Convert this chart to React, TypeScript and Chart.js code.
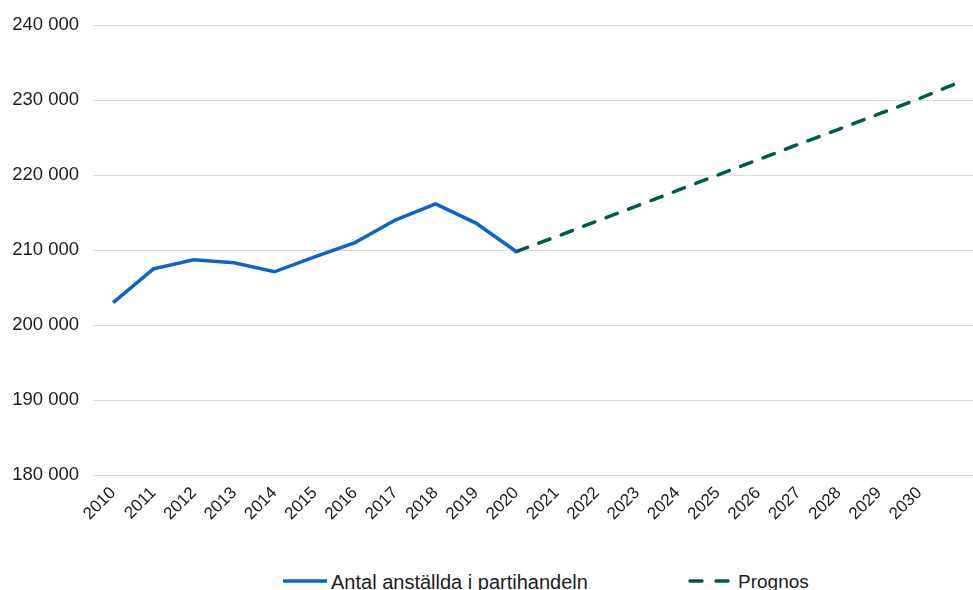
import React, { useEffect, useRef } from "react";
import { Chart, registerables } from "chart.js";

Chart.register(...registerables);

// Years on the category axis; the final slot carries the last forecast point but no label.
const years: string[] = [
  "2010", "2011", "2012", "2013", "2014", "2015", "2016", "2017", "2018", "2019", "2020",
  "2021", "2022", "2023", "2024", "2025", "2026", "2027", "2028", "2029", "2030", "",
];

// Employees in wholesale trade (outcome)
const employed: (number | null)[] = [
  203000, 207500, 208700, 208300, 207100, 209100, 211000, 214000, 216150, 213600, 209800,
  null, null, null, null, null, null, null, null, null, null, null,
];

// Forecast from 2020 onward
const forecast: (number | null)[] = [
  null, null, null, null, null, null, null, null, null, null, 209800,
  211800, 213850, 215900, 217950, 220000, 222050, 224100, 226100, 228150, 230200, 232400,
];

const yMin = 180000;
const yMax = 240000;
const yStep = 10000;

const seriesNames = ["Antal anställda i partihandeln", "Prognos"];
const BLUE = "#0b64c8";
const TEAL = "#005a50";
const TEXT = "#1c1c1c";
const FONT = "'Liberation Sans', Arial, Helvetica, sans-serif";

const fmt = (v: number) => String(v).replace(/\B(?=(\d{3})+(?!\d))/g, " ");

export default function App() {
  const ref = useRef<HTMLCanvasElement | null>(null);

  useEffect(() => {
    if (!ref.current) return;
    const chart = new Chart(ref.current, {
      type: "line",
      data: {
        labels: years,
        datasets: [
          {
            label: seriesNames[0],
            data: employed,
            borderColor: BLUE,
            borderWidth: 3.5,
            pointRadius: 0,
            tension: 0,
            spanGaps: false,
          },
          {
            label: seriesNames[1],
            data: forecast,
            borderColor: TEAL,
            borderWidth: 3.5,
            borderDash: [12, 12],
            borderCapStyle: "round",
            pointRadius: 0,
            tension: 0,
            spanGaps: false,
          },
        ],
      },
      options: {
        animation: false,
        responsive: false,
        maintainAspectRatio: false,
        layout: { padding: { top: 24, left: 0, right: 0, bottom: 0 } },
        plugins: {
          legend: { display: false },
          tooltip: { enabled: false },
        },
        scales: {
          x: {
            type: "category",
            offset: true,
            grid: { display: false, drawTicks: false },
            border: { display: false },
            afterFit: (s: any) => {
              s.height = 55;
            },
            ticks: {
              autoSkip: false,
              maxRotation: 45,
              minRotation: 45,
              padding: 8,
              color: TEXT,
              font: { family: FONT, size: 17 },
            },
          },
          y: {
            min: yMin,
            max: yMax,
            afterFit: (s: any) => {
              s.width = 93;
            },
            grid: { color: "#dcdcdc", lineWidth: 1, drawTicks: false },
            border: { display: false },
            ticks: {
              stepSize: yStep,
              padding: 14,
              color: TEXT,
              font: { family: FONT, size: 18.5 },
              callback: (v: any) => fmt(Number(v)),
            },
          },
        },
      },
    });
    return () => chart.destroy();
  }, []);

  return (
    <div
      style={{
        position: "fixed",
        left: 0,
        top: 0,
        width: 973,
        height: 590,
        overflow: "hidden",
        background: "#ffffff",
        fontFamily: FONT,
      }}
    >
      <canvas ref={ref} width={982} height={530} style={{ display: "block", width: 982, height: 530 }} />
      <svg style={{ position: "absolute", left: 283, top: 576 }} width={46} height={10}>
        <line x1={0} y1={5} x2={44} y2={5} stroke={BLUE} strokeWidth={3.5} />
      </svg>
      <div style={{ position: "absolute", left: 331, top: 572, fontSize: 20, lineHeight: "20px", color: TEXT, whiteSpace: "nowrap" }}>
        {seriesNames[0]}
      </div>
      <svg style={{ position: "absolute", left: 688, top: 576 }} width={46} height={10}>
        <line x1={2} y1={5} x2={42} y2={5} stroke={TEAL} strokeWidth={3.5} strokeDasharray="12 14" strokeLinecap="round" />
      </svg>
      <div style={{ position: "absolute", left: 738, top: 572, fontSize: 19, lineHeight: "20px", color: TEXT, whiteSpace: "nowrap" }}>
        {seriesNames[1]}
      </div>
    </div>
  );
}
